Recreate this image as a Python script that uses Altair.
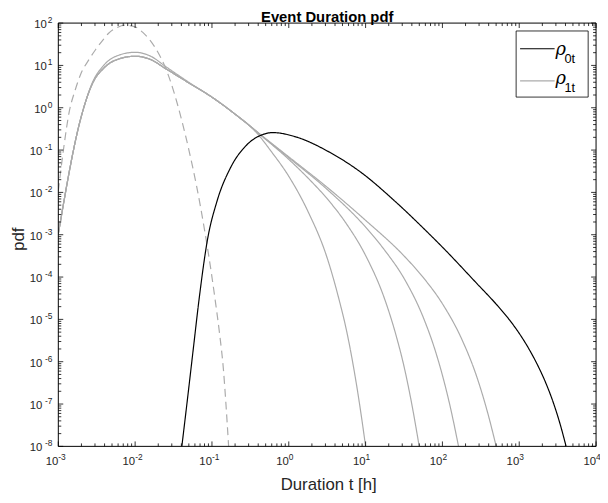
import altair as alt
import pandas as pd

W, H = 545, 429

# ---- data (log10 values) ----
rho0_logt = [-1.392, -1.318, -1.24, -1.168, -1.06, -0.933, -0.762, -0.548, -0.35, -0.205, 0.094, 0.52, 0.95,
             1.377, 1.805, 2.02, 2.447, 2.7, 2.876, 3.0, 3.13, 3.25, 3.35, 3.45, 3.53, 3.61]
rho0_logp = [-8.0, -6.87, -5.65, -4.53, -3.135, -2.2, -1.43, -0.88, -0.64, -0.587, -0.69, -1.04, -1.54,
             -2.2, -2.94, -3.33, -4.15, -4.64, -5.02, -5.33, -5.71, -6.12, -6.52, -7.0, -7.46, -8.0]

dash_logt = [-3.0, -2.93, -2.859, -2.78, -2.709, -2.6, -2.516, -2.42, -2.345, -2.25, -2.131, -2.0, -1.9, -1.8,
             -1.7, -1.6, -1.5, -1.4, -1.3, -1.2, -1.1, -1.0, -0.95, -0.9, -0.85, -0.818, -0.783]
dash_logp = [-1.97, -0.95, -0.105, 0.42, 0.79, 1.14, 1.37, 1.6, 1.76, 1.88, 1.95, 1.91, 1.78, 1.58,
             1.3, 0.92, 0.4, -0.25, -1.0, -1.85, -2.85, -4.0, -4.65, -5.35, -6.2, -7.0, -8.0]

bundle_logt = [-3.0, -2.709, -2.56, -2.4, -2.2, -2.0, -1.8, -1.6, -1.3, -1.0, -0.7, -0.5]
bundle_logp = [-2.98, -0.26, 0.555, 0.95, 1.16, 1.217, 1.14, 0.92, 0.585, 0.25, -0.15, -0.44]

c1_logt = bundle_logt + [-0.377, -0.25, 0.0, 0.25, 0.5, 0.65, 0.75, 0.85, 0.95, 1.0]
c1_logp = bundle_logp + [-0.68, -0.98, -1.62, -2.45, -3.55, -4.5, -5.25, -6.2, -7.35, -8.0]

c2_logt = bundle_logt + [-0.377, 0.0, 0.25, 0.5, 0.75, 1.0, 1.25, 1.4, 1.5, 1.6, 1.698]
c2_logp = bundle_logp + [-0.63, -1.22, -1.66, -2.15, -2.74, -3.49, -4.53, -5.4, -6.11, -6.99, -8.0]

c3_logt = bundle_logt + [-0.377, 0.0, 0.5, 1.0, 1.25, 1.5, 1.75, 1.9, 2.0, 2.1, 2.21]
c3_logp = bundle_logp + [-0.625, -1.18, -1.93, -2.82, -3.37, -4.03, -4.95, -5.7, -6.32, -7.05, -8.0]

c4_logt = [-3.0, -2.709, -2.56, -2.4, -2.2, -2.0, -1.8, -1.6, -1.3, -1.0, -0.7, -0.5,
           -0.377, 0.0, 0.5, 1.0, 1.5, 1.75, 2.0, 2.25, 2.45, 2.6, 2.70]
c4_logp = [-2.98, -0.26, 0.58, 1.02, 1.25, 1.31, 1.22, 0.97, 0.60, 0.25, -0.15, -0.44,
           -0.62, -1.16, -1.88, -2.66, -3.50, -4.01, -4.63, -5.46, -6.37, -7.28, -8.0]

x_exps = [-3, -2, -1, 0, 1, 2, 3, 4]
y_exps = [2, 1, 0, -1, -2, -3, -4, -5, -6, -7, -8]

BLACK = "#000000"
GRAY = "#ababab"
FONT = "Liberation Sans"

rows = []
for name, lt, lp in [("c1", c1_logt, c1_logp), ("c2", c2_logt, c2_logp),
                     ("c3", c3_logt, c3_logp), ("c4", c4_logt, c4_logp),
                     ("dash", dash_logt, dash_logp), ("rho0", rho0_logt, rho0_logp)]:
    for i, (a, b) in enumerate(zip(lt, lp)):
        rows.append({"series": name, "order": i, "t": 10 ** a, "p": 10 ** b})
df = pd.DataFrame(rows)

xscale = alt.Scale(type="log", domain=[1e-3, 1e4], nice=False)
yscale = alt.Scale(type="log", domain=[1e-8, 1e2], nice=False)

SER = ["rho0", "dash", "c1", "c2", "c3", "c4"]
lines = alt.Chart(df).mark_line(clip=True, strokeWidth=1.2, interpolate="monotone").encode(
    x=alt.X("t:Q", scale=xscale, axis=None),
    y=alt.Y("p:Q", scale=yscale, axis=None),
    color=alt.Color("series:N", scale=alt.Scale(domain=SER,
                                               range=[BLACK, GRAY, GRAY, GRAY, GRAY, GRAY]), legend=None),
    strokeDash=alt.StrokeDash("series:N", scale=alt.Scale(domain=SER,
                                                         range=[[1, 0], [8, 5], [1, 0], [1, 0], [1, 0], [1, 0]]), legend=None),
    detail="series:N",
    order="order:Q",
)

# tick values
x_major = [10.0 ** e for e in x_exps]
x_minor = [k * 10.0 ** e for e in x_exps[:-1] for k in range(2, 10)]
y_major = [10.0 ** e for e in y_exps]
y_minor = [k * 10.0 ** e for e in y_exps[1:] for k in range(2, 10)]

def xticks(vals, size):
    d = pd.DataFrame({"v": vals})
    base = alt.Chart(d).mark_rule(color=BLACK, strokeWidth=0.8)
    bot = base.encode(x=alt.X("v:Q", scale=xscale, axis=None), y=alt.value(H), y2=alt.value(H - size))
    top = base.encode(x=alt.X("v:Q", scale=xscale, axis=None), y=alt.value(0), y2=alt.value(size))
    return [bot, top]

def yticks(vals, size):
    d = pd.DataFrame({"v": vals})
    base = alt.Chart(d).mark_rule(color=BLACK, strokeWidth=0.8)
    lft = base.encode(y=alt.Y("v:Q", scale=yscale, axis=None), x=alt.value(0), x2=alt.value(size))
    rgt = base.encode(y=alt.Y("v:Q", scale=yscale, axis=None), x=alt.value(W), x2=alt.value(W - size))
    return [lft, rgt]

tick_layers = xticks(x_major, 5) + xticks(x_minor, 3) + yticks(y_major, 5) + yticks(y_minor, 3)

frame = alt.Chart(pd.DataFrame({"a": [0]})).mark_rect(fill=None, stroke=BLACK, strokeWidth=1).encode(
    x=alt.value(0), x2=alt.value(W), y=alt.value(0), y2=alt.value(H))

xl = pd.DataFrame({"v": x_major, "base": ["10"] * len(x_major), "exp": [str(e) for e in x_exps]})
xl_base = alt.Chart(xl).mark_text(align="right", baseline="middle", fontSize=11.5, font=FONT, color="#262626").encode(
    x=alt.X("v:Q", scale=xscale, axis=None), y=alt.value(H + 16), text="base:N")
xl_exp = alt.Chart(xl).mark_text(align="left", baseline="middle", fontSize=8.5, font=FONT, color="#262626").encode(
    x=alt.X("v:Q", scale=xscale, axis=None), y=alt.value(H + 11), text="exp:N")

yl = pd.DataFrame({"v": y_major, "base": ["10"] * len(y_major), "exp": [str(e) for e in y_exps]})
yl["bx"] = [-7 - 4.6 * len(s) for s in yl["exp"]]
yl_base = alt.Chart(yl).mark_text(align="right", baseline="middle", fontSize=11.5, font=FONT, color="#262626").encode(
    y=alt.Y("v:Q", scale=yscale, axis=None), x=alt.X("bx:Q", scale=None), text="base:N", yOffset=alt.value(2))
yl_exp = alt.Chart(yl).mark_text(align="right", baseline="middle", fontSize=8.5, font=FONT, color="#262626").encode(
    y=alt.Y("v:Q", scale=yscale, axis=None), x=alt.value(-6), text="exp:N", yOffset=alt.value(-3))

one = pd.DataFrame({"a": [0]})
title = alt.Chart(one).mark_text(align="center", baseline="alphabetic", fontSize=15, fontWeight="bold",
                                 font=FONT, color=BLACK).encode(
    x=alt.value(W / 2), y=alt.value(-1.5), text=alt.value("Event Duration pdf"))
xtitle = alt.Chart(one).mark_text(align="center", baseline="alphabetic", fontSize=17, font=FONT, color="#262626").encode(
    x=alt.value(274), y=alt.value(473), text=alt.value("Duration t [h]"))
ytitle = alt.Chart(one).mark_text(align="center", baseline="middle", fontSize=17, font=FONT, angle=270,
                                  color="#262626").encode(
    x=alt.value(-40), y=alt.value(219), text=alt.value("pdf"))

LX0, LX1, LY0, LY1 = 464, 537, 8, 75
leg_box = alt.Chart(one).mark_rect(fill="white", stroke=BLACK, strokeWidth=0.8).encode(
    x=alt.value(LX0), x2=alt.value(LX1), y=alt.value(LY0), y2=alt.value(LY1))
leg_l1 = alt.Chart(one).mark_rule(color=BLACK, strokeWidth=1.2).encode(
    x=alt.value(468), x2=alt.value(503), y=alt.value(26))
leg_l2 = alt.Chart(one).mark_rule(color=GRAY, strokeWidth=1.2).encode(
    x=alt.value(468), x2=alt.value(503), y=alt.value(58.5))
leg_r1 = alt.Chart(one).mark_text(align="left", baseline="middle", fontSize=18, font="DejaVu Serif",
                                  fontStyle="italic", color=BLACK).encode(
    x=alt.value(504), y=alt.value(27), text=alt.value("ρ"))
leg_s1 = alt.Chart(one).mark_text(align="left", baseline="middle", fontSize=13, font=FONT, color=BLACK).encode(
    x=alt.value(513), y=alt.value(36), text=alt.value("0t"))
leg_r2 = alt.Chart(one).mark_text(align="left", baseline="middle", fontSize=18, font="DejaVu Serif",
                                  fontStyle="italic", color=BLACK).encode(
    x=alt.value(504), y=alt.value(57), text=alt.value("ρ"))
leg_s2 = alt.Chart(one).mark_text(align="left", baseline="middle", fontSize=13, font=FONT, color=BLACK).encode(
    x=alt.value(513), y=alt.value(66), text=alt.value("1t"))

chart = alt.layer(
    lines, *tick_layers, frame, xl_base, xl_exp, yl_base, yl_exp, title, xtitle, ytitle,
    leg_box, leg_l1, leg_l2, leg_r1, leg_s1, leg_r2, leg_s2
).properties(
    width=W, height=H,
    autosize=alt.AutoSizeParams(type="none"),
    padding={"left": 51, "top": 12, "right": 4, "bottom": 46},
).configure_view(stroke=None)

chart.save("out.html", embed_options={"renderer": "svg", "actions": False})
